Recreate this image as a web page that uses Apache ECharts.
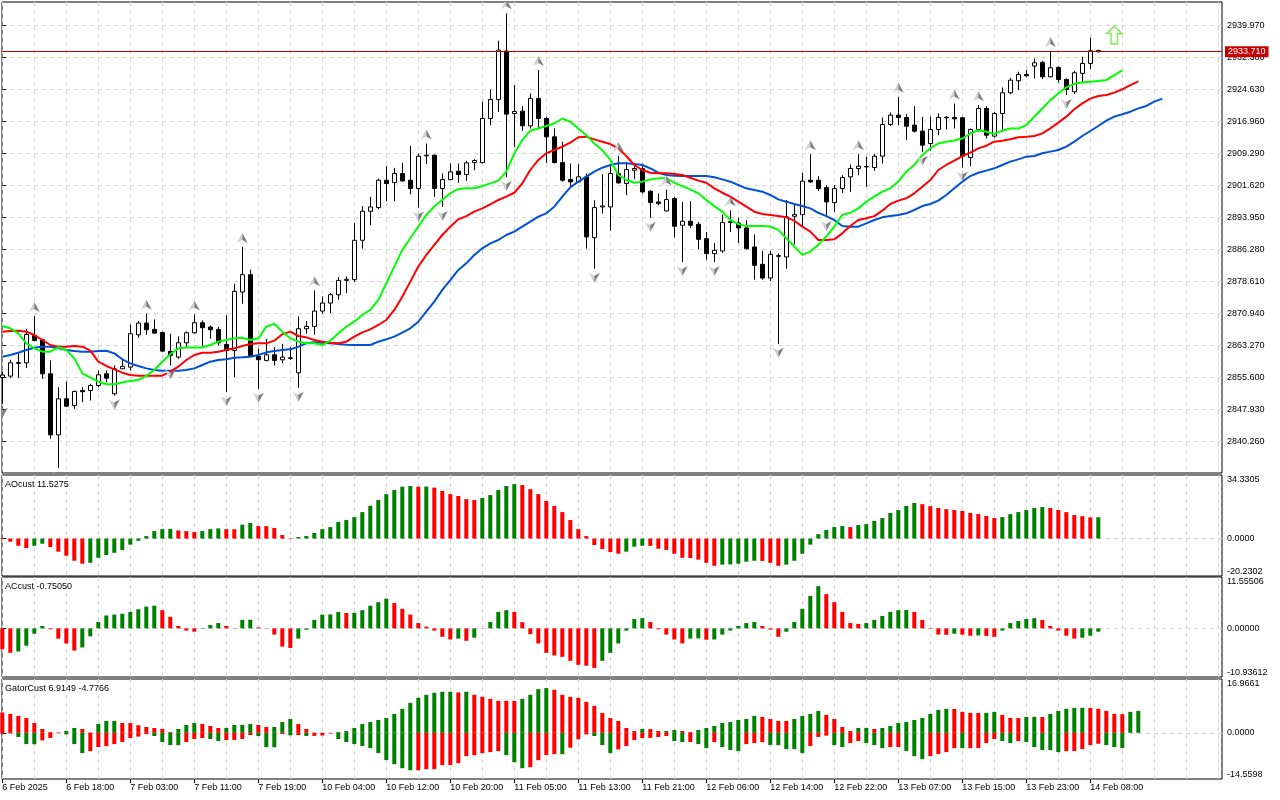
<!DOCTYPE html>
<html><head><meta charset="utf-8">
<script src="https://cdn.jsdelivr.net/npm/echarts@6/dist/echarts.min.js"></script>
<style>html,body{margin:0;padding:0;background:#fff}#c{width:1280px;height:800px}</style>
</head><body><div id="c"></div>
<script>
// ---------- DATA ----------
const timeLabels = ["6 Feb 2025","6 Feb 18:00","7 Feb 03:00","7 Feb 11:00","7 Feb 19:00","10 Feb 04:00","10 Feb 12:00","10 Feb 20:00","11 Feb 05:00","11 Feb 13:00","11 Feb 21:00","12 Feb 06:00","12 Feb 14:00","12 Feb 22:00","13 Feb 07:00","13 Feb 15:00","13 Feb 23:00","14 Feb 08:00"];
const priceTicks = [2840.26,2847.93,2855.60,2863.27,2870.94,2878.61,2886.28,2893.95,2901.62,2909.29,2916.96,2924.63,2932.30,2939.97];
const priceRange = [2832.72, 2945.62];
const lastPrice = 2933.71;

const opens = [
2855.6,2855.94,2859.0,2859.14,2865.7,2864.66,2856.5,2841.86,2850.5,2848.9,
2852.5,2852.5,2853.7,2856.5,2851.7,2857.7,2858.1,2865.86,2868.66,2867.14,
2866.4,2861.86,2860.5,2863.94,2866.34,2868.74,2867.7,2867.14,2863.54,2862.1,
2876.1,2880.26,2860.66,2859.7,2861.06,2859.86,2860.2,2856.74,2867.3,2867.86,
2871.54,2873.46,2875.46,2878.9,2879.06,2888.5,2895.46,2896.34,2902.9,2902.34,
2904.5,2902.9,2900.9,2908.74,2908.9,2900.9,2903.06,2905.06,2904.26,2907.14,
2907.14,2917.7,2922.26,2933.86,2918.9,2919.46,2915.94,2922.5,2917.7,2913.3,
2907.14,2903.06,2902.5,2903.7,2889.14,2896.5,2896.5,2904.5,2902.1,2905.3,
2905.7,2900.26,2897.7,2895.54,2898.5,2892.1,2893.06,2892.34,2888.9,2885.3,
2885.94,2892.8,2892.66,2891.46,2886.9,2882.74,2879.46,2884.66,2884.5,2894.26,
2894.66,2902.9,2902.9,2901.14,2897.54,2900.9,2903.7,2905.7,2906.1,2905.94,
2908.66,2916.26,2918.5,2917.94,2916.1,2914.66,2911.7,2915.06,2917.86,2917.94,
2917.86,2908.34,2915.06,2920.1,2913.46,2918.9,2923.86,2926.74,2928.26,2930.26,
2931.14,2927.7,2929.94,2927.06,2924.1,2928.5,2930.9,2934.0];
const closes = [
2856.2,2859.14,2859.2,2865.94,2864.5,2856.5,2841.86,2850.5,2848.74,2852.26,
2852.2,2853.7,2856.26,2855.46,2857.7,2858.3,2866.1,2868.66,2867.06,2866.26,
2861.94,2860.9,2863.94,2866.34,2868.74,2867.54,2867.06,2863.94,2862.1,2876.26,
2880.26,2860.9,2859.86,2861.06,2859.7,2860.5,2860.34,2867.3,2867.86,2871.54,
2873.46,2875.46,2878.9,2879.14,2888.5,2895.46,2896.5,2902.9,2902.1,2904.5,
2902.74,2900.9,2908.66,2908.9,2900.9,2903.06,2904.9,2904.26,2907.06,2907.62,
2917.7,2922.26,2934.1,2918.74,2919.38,2915.94,2922.5,2917.7,2913.3,2907.14,
2902.9,2902.5,2903.7,2889.3,2896.34,2896.74,2904.5,2902.26,2905.46,2905.7,
2900.1,2897.54,2897.3,2898.26,2891.86,2893.06,2892.1,2888.74,2885.3,2886.1,
2892.74,2893.0,2891.46,2886.5,2882.5,2879.46,2885.14,2884.82,2894.1,2894.66,
2902.66,2902.5,2900.9,2897.7,2900.9,2903.54,2905.7,2906.26,2906.18,2908.66,
2916.26,2918.5,2917.94,2915.86,2914.66,2911.3,2915.06,2917.94,2918.0,2917.62,
2908.66,2915.06,2920.1,2913.7,2918.9,2923.86,2926.9,2928.26,2927.94,2931.06,
2927.7,2929.86,2927.06,2924.66,2928.66,2930.9,2933.94,2933.71];
const lows = [
2849.3,2855.46,2855.5,2857.86,2864.3,2855.3,2840.9,2833.94,2848.5,2848.1,
2849.7,2850.1,2853.3,2854.5,2851.3,2857.6,2857.3,2865.14,2865.86,2866.1,
2861.7,2858.5,2860.1,2862.9,2866.1,2863.06,2864.9,2863.3,2852.1,2855.7,
2873.3,2860.5,2852.9,2859.46,2858.5,2859.06,2859.86,2853.14,2866.1,2865.86,
2870.9,2871.06,2874.26,2875.86,2878.5,2886.5,2892.1,2895.94,2897.86,2897.86,
2902.5,2899.54,2896.34,2906.74,2898.9,2896.5,2902.9,2902.26,2902.74,2905.3,
2906.9,2916.1,2919.3,2903.7,2910.9,2914.74,2915.3,2915.46,2907.06,2906.9,
2902.5,2901.46,2902.26,2886.5,2881.7,2894.9,2890.74,2902.1,2899.3,2903.14,
2899.7,2893.86,2896.9,2895.46,2889.14,2883.3,2891.46,2886.34,2883.86,2883.3,
2885.46,2890.5,2887.86,2886.26,2879.06,2879.06,2878.74,2863.7,2881.7,2887.46,
2891.86,2902.26,2900.34,2894.1,2895.3,2899.86,2900.1,2904.1,2901.3,2905.14,
2906.9,2915.86,2916.1,2912.5,2914.34,2909.7,2910.0,2913.7,2915.06,2915.3,
2905.94,2906.26,2914.5,2912.9,2913.14,2914.5,2923.54,2924.5,2927.7,2927.3,
2927.14,2927.54,2926.26,2923.3,2923.54,2926.26,2929.54,2933.5];
const highs = [
2857.0,2859.86,2861.3,2867.3,2870.34,2864.9,2859.7,2853.3,2854.66,2852.5,
2853.3,2854.1,2857.3,2857.3,2858.5,2860.1,2868.26,2869.14,2870.9,2869.54,
2866.66,2866.1,2865.46,2866.66,2870.74,2869.3,2868.1,2867.7,2870.5,2878.1,
2886.9,2881.46,2862.5,2864.9,2862.9,2863.7,2862.9,2870.26,2869.14,2876.5,
2875.06,2875.86,2879.7,2879.86,2892.66,2896.66,2898.9,2903.3,2906.26,2905.86,
2907.06,2911.14,2909.3,2911.7,2909.06,2904.5,2906.9,2906.9,2907.54,2907.94,
2921.7,2924.66,2936.34,2942.9,2925.7,2920.66,2923.7,2929.3,2918.1,2915.3,
2912.1,2906.9,2906.74,2904.5,2898.1,2904.34,2906.74,2908.74,2907.3,2906.9,
2906.9,2900.5,2899.7,2900.66,2898.9,2897.7,2897.86,2892.9,2890.5,2887.86,
2894.66,2895.7,2893.94,2893.3,2889.94,2885.94,2885.94,2885.3,2898.1,2897.06,
2904.66,2909.14,2903.86,2901.7,2901.7,2904.1,2906.66,2909.14,2908.5,2909.14,
2917.94,2919.14,2922.9,2918.74,2920.66,2918.1,2918.1,2918.9,2918.3,2921.3,
2918.1,2915.3,2920.9,2920.66,2919.3,2925.14,2927.46,2928.9,2929.3,2932.1,
2931.54,2933.86,2930.26,2927.3,2929.06,2932.5,2937.06,2934.2];

// Alligator (already shifted forward: lips +3, teeth +5, jaw +8)
const lips = [
2867.96,2867.4,2866.2,2863.8,2862.6,2861.8,2861.8,2862.85,2862.2,2860.2,
2856.6,2855.57,2854.6,2853.98,2853.98,2854.4,2854.8,2855.0,2856.0,2857.4,
2859.4,2861.2,2862.6,2862.8,2862.8,2862.8,2863.4,2864.2,2864.6,2865.0,
2865.16,2864.6,2865.0,2867.8,2868.5,2866.6,2865.0,2864.2,2863.8,2863.8,
2863.4,2864.44,2866.2,2867.8,2869.0,2870.6,2871.8,2874.2,2878.2,2882.2,
2886.2,2889.0,2891.8,2894.6,2896.6,2898.2,2899.76,2900.8,2900.96,2900.96,
2901.5,2902.15,2902.8,2904.95,2909.35,2912.5,2914.8,2915.3,2915.9,2916.5,
2917.7,2916.9,2915.3,2913.7,2911.7,2910.1,2907.75,2904.15,2902.95,2902.3,
2902.55,2903.1,2903.35,2903.35,2902.3,2901.5,2900.7,2899.76,2898.16,2896.7,
2895.36,2893.37,2892.4,2891.9,2891.9,2891.9,2891.8,2891.0,2889.0,2887.0,
2885.0,2885.8,2887.4,2889.4,2891.8,2894.6,2895.1,2896.15,2897.76,2898.96,
2900.16,2900.96,2902.55,2904.95,2906.55,2908.95,2910.55,2911.7,2912.1,2912.4,
2912.9,2914.1,2914.9,2914.5,2914.0,2914.8,2915.3,2915.3,2916.1,2918.1,
2920.1,2922.1,2923.7,2925.16,2926.0,2926.3,2926.5,2926.7,2926.9,2928.1,
2929.24];
const teeth = [
2866.6,2866.76,2866.84,2866.6,2865.8,2864.6,2863.4,2863.0,2863.0,2863.16,
2863.0,2862.05,2859.4,2858.37,2857.57,2856.77,2856.2,2856.05,2856.05,2856.05,
2856.05,2857.0,2858.2,2859.8,2861.0,2861.56,2861.56,2861.8,2862.2,2862.6,
2863.16,2863.64,2863.8,2863.8,2864.44,2865.96,2866.6,2865.56,2865.24,2864.6,
2864.2,2863.96,2863.8,2864.2,2865.4,2866.44,2867.16,2868.2,2869.4,2871.8,
2874.99,2878.6,2882.2,2884.98,2887.4,2889.77,2891.77,2893.53,2894.3,2895.36,
2896.16,2897.1,2898.16,2898.96,2899.9,2902.15,2905.35,2907.75,2909.35,2910.15,
2910.95,2911.9,2913.2,2913.34,2912.7,2912.14,2911.58,2910.54,2908.7,2906.55,
2905.35,2904.7,2904.55,2904.55,2904.4,2904.15,2903.5,2902.8,2902.3,2900.96,
2899.9,2898.96,2897.76,2896.56,2895.36,2894.8,2894.56,2894.3,2894.0,2893.2,
2891.77,2890.57,2888.57,2888.57,2888.73,2890.17,2891.93,2893.37,2893.77,2894.3,
2895.6,2897.2,2898.0,2898.56,2899.76,2901.36,2902.95,2905.35,2906.55,2907.6,
2908.7,2909.5,2910.54,2911.18,2912.14,2912.38,2912.7,2913.2,2913.34,2913.5,
2914.14,2915.34,2916.7,2918.14,2919.9,2921.33,2922.45,2923.1,2923.33,2923.9,
2924.7,2925.7,2926.6];
const jaw = [
2860.6,2861.0,2861.56,2862.2,2862.76,2863.0,2863.0,2862.6,2862.2,2861.96,
2861.8,2861.8,2861.96,2862.04,2861.4,2859.97,2859.0,2858.37,2857.8,2857.4,
2857.25,2857.25,2857.25,2857.4,2857.8,2858.6,2859.4,2859.8,2859.97,2860.37,
2860.45,2860.6,2861.0,2861.64,2861.96,2862.2,2862.36,2863.0,2863.8,2864.04,
2863.96,2863.8,2863.64,2863.48,2863.4,2863.4,2863.4,2864.2,2864.76,2865.4,
2866.36,2867.4,2869.0,2871.4,2873.8,2876.6,2878.98,2881.38,2882.98,2884.98,
2886.57,2887.77,2888.57,2889.77,2890.57,2891.77,2892.97,2894.17,2894.96,2896.56,
2898.96,2901.2,2902.55,2903.75,2904.95,2905.9,2906.55,2906.95,2906.95,2906.79,
2906.55,2905.75,2904.7,2904.15,2903.99,2903.9,2903.9,2903.9,2903.9,2903.6,
2903.1,2902.55,2901.76,2900.96,2900.56,2900.16,2899.36,2898.3,2897.76,2897.2,
2896.7,2896.16,2895.1,2894.3,2893.37,2891.93,2891.77,2891.77,2892.57,2893.37,
2894.0,2894.3,2894.56,2894.96,2895.76,2896.7,2897.2,2898.0,2899.36,2900.96,
2902.55,2903.9,2904.7,2905.2,2905.75,2906.55,2907.35,2907.9,2908.55,2908.7,
2909.35,2909.75,2910.15,2910.94,2912.14,2913.5,2914.7,2915.9,2917.18,2918.14,
2918.7,2919.33,2920.13,2920.7,2921.73,2922.45];

const fractalUp = [4,18,24,30,39,53,63,67,77,83,91,101,107,112,119,122,131];
const fractalDown = [0,7,14,21,28,32,37,52,55,63,74,81,85,89,97,103,115,120,133];
const signalUp = [[139, 2937.7]];

const aoValues = [
0.4,-1.7,-3.9,-5.1,-3.9,-2.8,-4.6,-7.1,-9.3,-12.0,
-13.6,-13.1,-10.4,-8.9,-7.7,-6.2,-3.3,-1.2,1.35,4.05,
5.1,5.2,4.4,4.0,3.5,4.05,5.1,5.5,5.1,5.05,
7.5,8.4,6.75,6.7,5.7,1.9,-0.3,0.8,1.35,3.0,
5.1,6.2,8.9,10.0,11.6,14.3,17.7,20.8,24.0,26.2,
28.0,28.4,28.0,28.1,27.5,25.7,24.0,23.0,21.3,20.8,
21.9,23.5,26.2,28.4,29.4,28.9,26.7,24.0,20.3,17.6,
14.3,10.0,5.1,1.35,-3.5,-5.7,-7.3,-8.2,-7.1,-4.4,
-3.9,-4.0,-5.5,-6.2,-8.2,-10.4,-10.5,-11.4,-13.1,-14.7,
-14.1,-14.0,-13.6,-12.5,-12.0,-12.1,-13.1,-14.7,-14.1,-12.0,
-8.2,-3.3,2.4,4.6,6.2,6.75,6.2,7.3,7.8,9.5,
11.1,13.8,15.4,17.6,19.2,18.6,17.5,16.5,15.9,15.4,
14.9,13.8,13.2,12.2,11.1,11.6,13.2,14.3,15.4,16.5,
17.0,16.5,15.4,14.3,12.7,12.1,11.45,11.5275];
const aoScale = [-20.2302, 34.3305];

const acValues = [
-4.7,-5.5,-5.2,-3.9,-1.2,0.54,-0.2,-2.3,-3.4,-5.0,
-4.3,-1.8,1.44,2.9,3.1,3.3,3.7,4.3,4.9,5.1,
4.1,2.6,0.54,-0.5,-0.75,0.1,0.75,1.2,0.54,-0.05,
1.9,1.95,0.24,-0.06,-1.4,-4.1,-4.4,-2.3,-0.3,1.9,
3.1,3.15,3.7,3.45,3.5,4.1,5.1,5.9,6.7,5.7,
4.4,3.1,1.2,0.4,-0.5,-1.9,-2.5,-2.3,-2.8,-2.1,
0.05,1.44,3.7,4.1,3.7,1.4,-1.3,-3.4,-5.5,-6.1,
-6.4,-7.3,-8.2,-8.4,-8.9,-7.3,-5.5,-3.4,-0.5,2.1,
2.3,1.44,-0.2,-1.4,-2.5,-3.4,-2.3,-2.25,-2.55,-2.5,
-1.4,-0.5,0.54,1.2,1.44,0.54,-0.28,-1.9,-0.75,1.44,
4.4,7.3,9.5,7.7,5.9,3.7,1.2,1.0,1.2,1.9,
2.8,3.7,4.1,4.15,3.7,1.9,-0.1,-1.4,-1.45,-1.2,
-1.4,-1.65,-1.6,-1.7,-1.9,-0.5,1.2,1.65,2.1,2.3,
1.9,0.54,-0.5,-1.65,-2.3,-2.1,-1.65,-0.7505];
const acScale = [-10.93612, 11.55506];

const gatorUpper = [
6.4,5.96,5.33,4.69,3.1,1.2,0.25,0.12,0.57,1.52,
1.2,0.1,2.8,3.74,3.75,3.1,3.05,2.37,1.84,1.52,
1.2,0.25,1.2,2.47,3.1,2.8,2.16,1.52,1.55,2.47,
2.5,2.8,2.47,1.84,1.85,3.42,4.38,2.8,1.2,0.05,
0.03,0.01,0.25,0.57,1.52,2.8,3.42,4.06,4.69,5.96,
7.55,9.45,11.04,11.99,12.62,12.94,12.95,12.73,12.94,11.99,
11.35,10.72,10.08,10.07,10.06,10.72,11.99,13.78,14.1,13.57,
11.99,11.35,11.04,9.77,8.5,6.28,4.69,3.74,1.52,0.57,
1.2,1.18,0.57,0.6,0.9,0.57,0.25,0.9,1.52,2.16,
3.1,3.42,4.06,4.38,5.33,5.01,4.38,3.74,3.73,4.38,
5.33,5.96,6.9,5.64,4.38,1.84,0.57,1.52,1.55,1.2,
1.52,2.16,3.1,3.42,4.06,4.69,5.96,7.23,7.55,7.5,
6.6,6.28,6.25,6.3,6.6,5.64,4.69,4.65,5.01,5.05,
5.0,5.96,6.9,7.55,7.86,7.88,7.85,7.55,6.91,5.96,
5.9,6.6,6.9149];
const gatorLower = [
-0.3,-0.2,-1.33,-3.55,-3.6,-2.39,-1.65,-0.1,-0.5,-3.55,
-6.4,-5.77,-4.5,-4.19,-3.55,-2.9,-1.65,-1.2,-0.4,-1.0,
-2.9,-3.87,-3.9,-2.9,-1.97,-1.65,-1.97,-2.6,-2.28,-2.25,
-1.97,-0.7,-1.0,-4.5,-4.55,-0.38,-0.8,-0.7,-1.0,-0.98,
-0.85,-0.2,-1.97,-2.9,-3.55,-4.19,-4.82,-6.4,-8.6,-9.9,
-11.16,-11.8,-11.79,-11.48,-11.47,-10.2,-10.19,-9.58,-7.36,-7.04,
-6.4,-6.09,-5.77,-7.04,-9.26,-11.16,-10.85,-8.63,-7.04,-6.72,
-6.75,-4.71,-2.07,-0.5,-1.0,-3.87,-6.41,-5.24,-4.19,-2.28,
-1.65,-1.6,-1.33,-1.0,-2.6,-2.92,-2.9,-3.55,-4.82,-2.92,
-4.5,-5.45,-5.77,-3.55,-3.23,-2.92,-3.87,-3.9,-5.14,-5.15,
-6.41,-4.19,-1.3,-0.9,-3.87,-4.5,-3.23,-2.6,-3.23,-3.87,
-4.82,-4.5,-4.48,-5.77,-7.36,-8.3,-7.36,-6.72,-6.09,-4.82,
-4.85,-4.83,-4.82,-3.23,-1.97,-2.6,-3.23,-2.6,-2.92,-4.5,
-5.45,-5.47,-6.09,-5.77,-5.75,-5.14,-3.87,-3.45,-3.87,-4.5,
-4.7766];
const gatorScale = [-14.5598, 16.9661];

// ---------- CHART ----------
const FONT = 'Liberation Sans';
const UP = '#008000', DOWN = '#ff0000', GRIDC = '#d4d4d4';
const X_MIN = -0.0375, X_MAX = 152.4625;
const gridIdx = []; for (let k = 0; k <= 152; k += 4) gridIdx.push(k);
const labelIdx = timeLabels.map((_, k) => k * 8);

function histColor(arr, i, useAbs) {
  if (i === 0) return DOWN;
  const c = useAbs ? Math.abs(arr[i]) : arr[i];
  const p = useAbs ? Math.abs(arr[i - 1]) : arr[i - 1];
  return c > p ? UP : DOWN;
}
function histData(arr, useAbs) {
  return arr.map((v, i) => ({ value: [i, v], itemStyle: { color: histColor(arr, i, useAbs) } }));
}

const grids = [
  { left: 2, top: 2, width: 1220, height: 471 },
  { left: 2, top: 475, width: 1220, height: 101 },
  { left: 2, top: 577, width: 1220, height: 100 },
  { left: 2, top: 679, width: 1220, height: 100 }
].map(g => Object.assign(g, { show: true, borderColor: '#000', borderWidth: 1, backgroundColor: 'transparent', containLabel: false, outerBoundsMode: 'none' }));

const splitStyle = { show: true, lineStyle: { color: GRIDC, width: 1, type: [4, 4] } };

const xAxes = [0, 1, 2, 3].map(g => ({
  type: 'value', gridIndex: g, min: X_MIN, max: X_MAX, position: 'bottom',
  axisLine: { show: false }, axisTick: { show: false, customValues: gridIdx },
  axisLabel: { show: false }, splitLine: splitStyle
}));
xAxes.push({
  type: 'value', gridIndex: 3, min: X_MIN, max: X_MAX, position: 'bottom',
  axisLine: { show: false },
  axisTick: { show: true, customValues: labelIdx, length: 4, lineStyle: { color: '#000' } },
  axisLabel: { show: true, customValues: labelIdx, formatter: v => timeLabels[Math.round(v / 8)] || '',
    align: 'left', margin: 4, fontSize: 9, fontFamily: FONT, color: '#000' },
  splitLine: { show: false }
});

function subAxis(g, scale, dec) {
  return {
    type: 'value', gridIndex: g, position: 'right', min: scale[0], max: scale[1],
    axisLine: { show: false },
    axisTick: { show: true, customValues: [0], length: 4, lineStyle: { color: '#000' } },
    axisLabel: { customValues: [scale[0], 0, scale[1]], formatter: v => v.toFixed(dec),
      fontSize: 9, fontFamily: FONT, color: '#000', margin: 5,
      verticalAlignMinLabel: 'bottom', verticalAlignMaxLabel: 'top' },
    splitLine: splitStyle
  };
}
const yAxes = [
  { type: 'value', gridIndex: 0, position: 'right', min: priceRange[0], max: priceRange[1],
    axisLine: { show: false },
    axisTick: { show: true, customValues: priceTicks, length: 4, lineStyle: { color: '#000' } },
    axisLabel: { customValues: priceTicks, formatter: v => v.toFixed(3), fontSize: 9, fontFamily: FONT, color: '#000', margin: 5 },
    splitLine: splitStyle },
  subAxis(1, aoScale, 4),
  subAxis(2, acScale, 5),
  subAxis(3, gatorScale, 4)
];

function renderFractal(params, api) {
  const p = api.coord([api.value(0), api.value(1)]);
  const d = api.value(2);
  const x = p[0], y = p[1];
  const tip = y - d * 14, base = y - d * 4, notch = y - d * 7;
  return { type: 'group', children: [
    { type: 'polygon', shape: { points: [[x, tip], [x - 5.5, base], [x, notch]] }, style: { fill: '#cfcfcf' } },
    { type: 'polygon', shape: { points: [[x, tip], [x + 5.5, base], [x, notch]] }, style: { fill: '#7d7d7d' } }
  ] };
}
const fractalData = fractalUp.map(i => [i, highs[i], 1]).concat(fractalDown.map(i => [i, lows[i], -1]));

const lineSeries = (name, arr, color) => ({
  name, type: 'line', xAxisIndex: 0, yAxisIndex: 0, data: arr.map((v, i) => [i, v]),
  showSymbol: false, symbol: 'none', lineStyle: { color, width: 2 }, z: 4, clip: true, silent: true
});

const option = {
  animation: false,
  backgroundColor: '#ffffff',
  textStyle: { fontFamily: FONT },
  title: [
    { text: 'AOcust 11.5275', left: 5, top: 480, padding: 0, textStyle: { fontSize: 9, fontWeight: 'normal', color: '#000', fontFamily: FONT } },
    { text: 'ACcust -0.75050', left: 5, top: 582, padding: 0, textStyle: { fontSize: 9, fontWeight: 'normal', color: '#000', fontFamily: FONT } },
    { text: 'GatorCust 6.9149 -4.7766', left: 5, top: 684, padding: 0, textStyle: { fontSize: 9, fontWeight: 'normal', color: '#000', fontFamily: FONT } }
  ],
  grid: grids,
  xAxis: xAxes,
  yAxis: yAxes,
  series: [
    {
      type: 'candlestick', xAxisIndex: 0, yAxisIndex: 0, barWidth: 4, z: 3,
      data: opens.map((o, i) => [i, o, closes[i], lows[i], highs[i]]),
      itemStyle: { color: '#ffffff', color0: '#000000', borderColor: '#000000', borderColor0: '#000000', borderWidth: 1 },
      markLine: {
        silent: true, symbol: 'none', animation: false,
        lineStyle: { color: '#c00000', width: 1, type: 'solid' },
        label: { show: true, position: 'end', formatter: lastPrice.toFixed(3), color: '#ffffff',
          backgroundColor: '#c80000', padding: [1, 3, 1, 3], fontSize: 9, fontFamily: FONT, distance: 3 },
        data: [{ yAxis: lastPrice }]
      }
    },
    lineSeries('Jaw', jaw, '#0050d8'),
    lineSeries('Teeth', teeth, '#ff0000'),
    lineSeries('Lips', lips, '#00ff00'),
    {
      type: 'custom', xAxisIndex: 0, yAxisIndex: 0, renderItem: renderFractal, clip: true, z: 5,
      encode: { x: 0, y: 1 }, data: fractalData, silent: true
    },
    {
      type: 'scatter', xAxisIndex: 0, yAxisIndex: 0, z: 5, silent: true,
      symbol: 'path://M7,0 L14,7 L10,7 L10,17 L4,17 L4,7 L0,7 Z', symbolSize: [15, 18],
      itemStyle: { color: '#f4fff0', borderColor: '#66dd33', borderWidth: 1.5 },
      data: signalUp
    },
    { type: 'bar', xAxisIndex: 1, yAxisIndex: 1, barWidth: 4, data: histData(aoValues, false), silent: true },
    { type: 'bar', xAxisIndex: 2, yAxisIndex: 2, barWidth: 4, data: histData(acValues, false), silent: true },
    { type: 'bar', xAxisIndex: 3, yAxisIndex: 3, barWidth: 4, barGap: '-100%', data: histData(gatorUpper, true), silent: true },
    { type: 'bar', xAxisIndex: 3, yAxisIndex: 3, barWidth: 4, barGap: '-100%', data: histData(gatorLower, true), silent: true }
  ]
};
const chart = echarts.init(document.getElementById('c'));
chart.setOption(option);
</script>
</body></html>
